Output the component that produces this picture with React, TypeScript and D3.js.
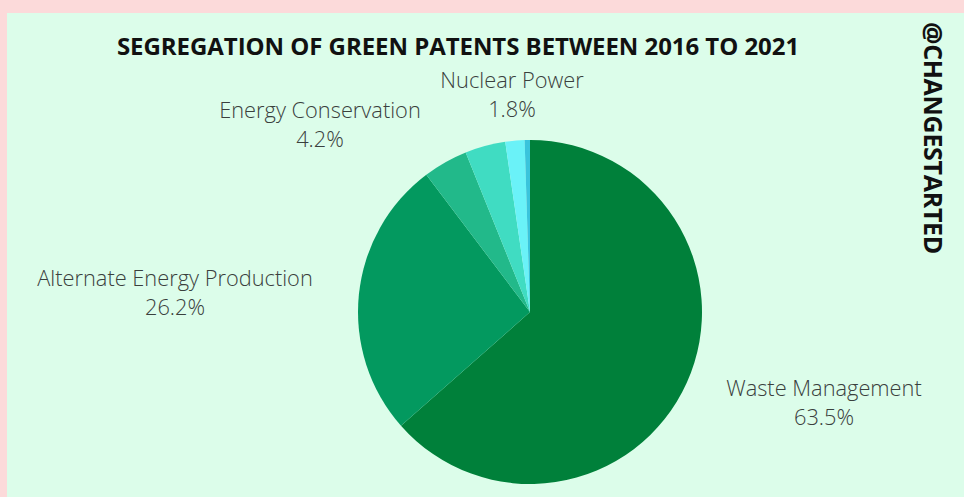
import React from "react";
import * as d3 from "d3";

const categories = ["Waste Management", "Alternate Energy Production", "Energy Conservation", "Other Technologies", "Nuclear Power", "Miscellaneous"];
const values = [63.5, 26.2, 4.2, 3.8, 1.8, 0.5];
const labelShown = [true, true, true, false, true, false];
const colors = ["#00803a", "#03995f", "#22b98a", "#40dcc2", "#6af2f8", "#3ac4dc"];
const title = "SEGREGATION OF GREEN PATENTS BETWEEN 2016 TO 2021";
const handle = "@CHANGESTARTED";

// label anchor positions (layout only)
const labelPos: Record<string, [number, number]> = {
  "Waste Management": [824, 396],
  "Alternate Energy Production": [175, 286],
  "Energy Conservation": [320, 118],
  "Nuclear Power": [512, 88],
};

export default function App() {
  const W = 964, H = 497;
  const cx = 530, cy = 312, r = 172;
  const data = categories.map((c, i) => ({ name: c, value: values[i], color: colors[i], show: labelShown[i] }));
  const pie = d3.pie<any>().value((d) => d.value).sort(null);
  const arc = d3.arc<any>().innerRadius(0).outerRadius(r);
  const arcs = pie(data);
  return (
    <svg width={W} height={H} style={{ position: "absolute", left: 0, top: 0 }}>
      <rect x={0} y={0} width={W} height={H} fill="#fcdada" />
      <rect x={7} y={13} width={W - 7} height={H - 13} fill="#dcfdea" />
      <text x={458} y={55} textAnchor="middle" fontFamily="'Open Sans', sans-serif" fontWeight={700} fontSize={24} fill="#111" letterSpacing={-0.05}>{title}</text>
      <text transform={`translate(924,138) rotate(90)`} textAnchor="middle" fontFamily="'Open Sans', sans-serif" fontWeight={700} fontSize={25} fill="#111" letterSpacing={-0.3}>{handle}</text>
      <g transform={`translate(${cx},${cy})`}>
        {arcs.map((a, i) => (
          <path key={i} d={arc(a) as string} fill={a.data.color} />
        ))}
      </g>
      {data.filter((d) => d.show).map((d) => {
        const [x, y] = labelPos[d.name];
        return (
          <g key={d.name} fontFamily="'Open Sans', sans-serif" fontWeight={300} fontSize={21.8} fill="#3a403d" textAnchor="middle">
            <text x={x} y={y}>{d.name}</text>
            <text x={x} y={y + 29}>{d.value.toFixed(1)}%</text>
          </g>
        );
      })}
    </svg>
  );
}
